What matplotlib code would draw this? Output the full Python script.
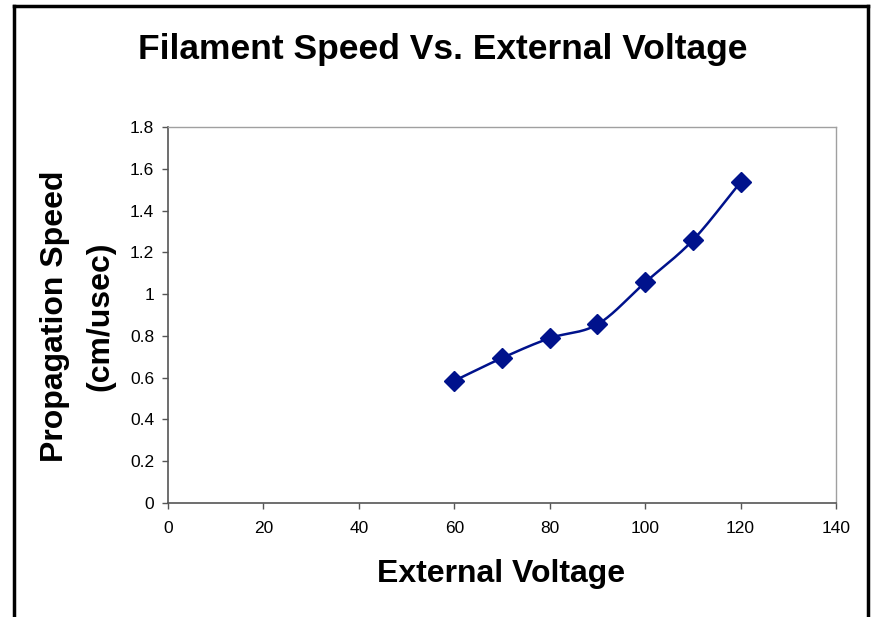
import numpy as np
import matplotlib
matplotlib.use("Agg")
import matplotlib.pyplot as plt

voltage = [60, 70, 80, 90, 100, 110, 120]
speed = [0.585, 0.694, 0.789, 0.855, 1.056, 1.258, 1.536]
x_ticks = [0, 20, 40, 60, 80, 100, 120, 140]
y_ticks = [0, 0.2, 0.4, 0.6, 0.8, 1.0, 1.2, 1.4, 1.6, 1.8]
y_tick_labels = ["0", "0.2", "0.4", "0.6", "0.8", "1", "1.2", "1.4", "1.6", "1.8"]

plt.rcParams['font.family'] = ['Liberation Sans', 'DejaVu Sans']

def catmull_rom(xs, ys, n=30):
    xs = np.asarray(xs, float); ys = np.asarray(ys, float)
    px = np.concatenate([[2*xs[0]-xs[1]], xs, [2*xs[-1]-xs[-2]]])
    py = np.concatenate([[2*ys[0]-ys[1]], ys, [2*ys[-1]-ys[-2]]])
    outx, outy = [], []
    for i in range(1, len(px)-2):
        t = np.linspace(0, 1, n)
        for arr, out in ((px, outx), (py, outy)):
            p0, p1, p2, p3 = arr[i-1], arr[i], arr[i+1], arr[i+2]
            out.extend(0.5*((2*p1) + (-p0+p2)*t + (2*p0-5*p1+4*p2-p3)*t**2 + (-p0+3*p1-3*p2+p3)*t**3))
    return np.array(outx), np.array(outy)

fig = plt.figure(figsize=(8.71, 6.17), dpi=100)
W, H = 871, 617
ax = fig.add_axes([168/W, 1-503/H, (836-168)/W, (503-127)/H])

sx, sy = catmull_rom(voltage, speed)
color = '#00128C'
ax.plot(sx, sy, color=color, lw=1.8, zorder=3)
ax.plot(voltage, speed, linestyle='none', marker='D', markersize=10.5, color=color, zorder=4)

ax.set_xlim(0, 140)
ax.set_ylim(0, 1.8)
ax.set_xticks(x_ticks)
ax.set_xticklabels([str(v) for v in x_ticks])
ax.set_yticks(y_ticks)
ax.set_yticklabels(y_tick_labels)
ax.tick_params(axis='both', direction='out', length=4, width=1, color='#555555', labelsize=12.5, pad=6)
ax.tick_params(axis='x', pad=9)
for s in ['left', 'bottom']:
    ax.spines[s].set_color('#555555')
    ax.spines[s].set_linewidth(1.2)
for s in ['top', 'right']:
    ax.spines[s].set_color('#A0A0A0')
    ax.spines[s].set_linewidth(1)

fig.text(501/W, 1-574/H, 'External Voltage', fontsize=23, fontweight='bold', ha='center', va='center')
fig.text(55/W, 1-316/H, 'Propagation Speed', fontsize=23, fontweight='bold', ha='center', va='center', rotation=90)
fig.text(100/W, 1-316/H, '(cm/usec)', fontsize=23, fontweight='bold', ha='center', va='center', rotation=90)

fig.text(443/W, 1-50/H, 'Filament Speed Vs. External Voltage', fontsize=25.5, fontweight='bold',
         ha='center', va='center')

# outer chart frame
fig.add_artist(plt.Line2D([14/W, 14/W], [0, 1-6/H], transform=fig.transFigure, color='black', lw=2.5))
fig.add_artist(plt.Line2D([868/W, 868/W], [0, 1-6/H], transform=fig.transFigure, color='black', lw=2.5))
fig.add_artist(plt.Line2D([14/W, 868/W], [1-6/H, 1-6/H], transform=fig.transFigure, color='black', lw=2.5))

fig.savefig('out.png', dpi=100)
